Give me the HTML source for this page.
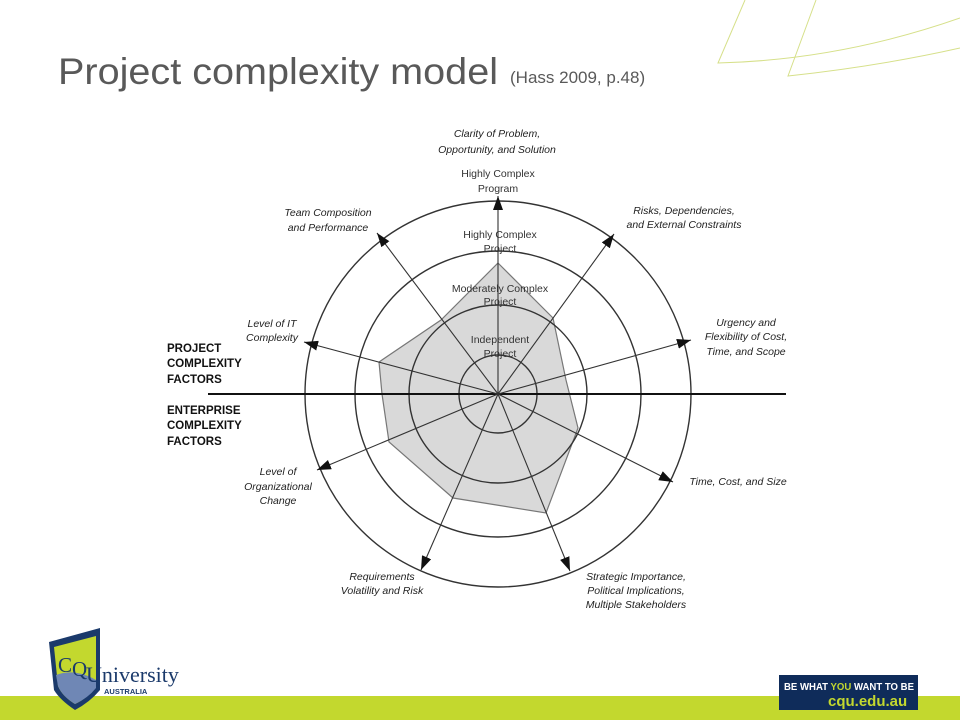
<!DOCTYPE html>
<html><head><meta charset="utf-8"><style>
html,body{margin:0;padding:0;background:#fff;}
body{width:960px;height:720px;position:relative;overflow:hidden;font-family:"Liberation Sans",sans-serif;}
</style></head><body>
<svg width="960" height="720" viewBox="0 0 960 720" xmlns="http://www.w3.org/2000/svg" style="position:absolute;left:0;top:0">
<defs>
<marker id="ah" markerWidth="14" markerHeight="10" refX="14" refY="5" orient="auto" markerUnits="userSpaceOnUse">
<path d="M0,0 L14,5 L0,10 Z" fill="#111"/>
</marker>
</defs>
<g fill="none" stroke="#d6e08a" stroke-width="1">
<path d="M745,0 L718,63 Q840,60 960,18"/>
<path d="M816,0 L788,76 Q880,66 960,48"/>
</g>
<text x="58" y="84" font-size="37" fill="#595959" font-family="Liberation Sans, sans-serif" textLength="440" lengthAdjust="spacingAndGlyphs">Project complexity model</text>
<text x="510" y="83" font-size="17" fill="#595959" font-family="Liberation Sans, sans-serif">(Hass 2009, p.48)</text>

<polygon points="498,263 553,318 566,380 578,428 546,513 453,498 389,442 382,394 379,362 441,320" fill="#d9d9d9" stroke="#777" stroke-width="1.2"/>
<g fill="none" stroke="#333" stroke-width="1.4">
<circle cx="498" cy="394" r="39"/>
<circle cx="498" cy="394" r="89"/>
<circle cx="498" cy="394" r="143"/>
<circle cx="498" cy="394" r="193"/>
</g>
<line x1="208" y1="394" x2="786" y2="394" stroke="#111" stroke-width="2"/>
<g stroke="#333" stroke-width="1.1" marker-end="url(#ah)">
<line x1="498" y1="394" x2="498" y2="196"/>
<line x1="498" y1="394" x2="614" y2="234"/>
<line x1="498" y1="394" x2="691" y2="340"/>
<line x1="498" y1="394" x2="673" y2="482"/>
<line x1="498" y1="394" x2="570" y2="571"/>
<line x1="498" y1="394" x2="421" y2="570"/>
<line x1="498" y1="394" x2="317" y2="470"/>
<line x1="498" y1="394" x2="304" y2="342"/>
<line x1="498" y1="394" x2="377" y2="233"/>
</g>
<g font-family="Liberation Sans, sans-serif" font-size="10.5" fill="#222" font-style="italic" text-anchor="middle">
<text x="497" y="137">Clarity of Problem,</text>
<text x="497" y="153">Opportunity, and Solution</text>
<text x="328" y="216">Team Composition</text>
<text x="328" y="231">and Performance</text>
<text x="684" y="214">Risks, Dependencies,</text>
<text x="684" y="228">and External Constraints</text>
<text x="746" y="326">Urgency and</text>
<text x="746" y="340">Flexibility of Cost,</text>
<text x="746" y="355">Time, and Scope</text>
<text x="272" y="327">Level of IT</text>
<text x="272" y="341">Complexity</text>
<text x="278" y="475">Level of</text>
<text x="278" y="490">Organizational</text>
<text x="278" y="504">Change</text>
<text x="738" y="485">Time, Cost, and Size</text>
<text x="382" y="580">Requirements</text>
<text x="382" y="594">Volatility and Risk</text>
<text x="636" y="580">Strategic Importance,</text>
<text x="636" y="594">Political Implications,</text>
<text x="636" y="608">Multiple Stakeholders</text>
</g>
<g font-family="Liberation Sans, sans-serif" font-size="10.5" fill="#333" text-anchor="middle">
<text x="498" y="177">Highly Complex</text>
<text x="498" y="192">Program</text>
<text x="500" y="238">Highly Complex</text>
<text x="500" y="252">Project</text>
<text x="500" y="292">Moderately Complex</text>
<text x="500" y="305">Project</text>
<text x="500" y="343">Independent</text>
<text x="500" y="357">Project</text>
</g>
<g font-family="Liberation Sans, sans-serif" font-size="11.5" font-weight="bold" fill="#111">
<text x="167" y="352">PROJECT</text>
<text x="167" y="367">COMPLEXITY</text>
<text x="167" y="383">FACTORS</text>
<text x="167" y="414">ENTERPRISE</text>
<text x="167" y="429">COMPLEXITY</text>
<text x="167" y="445">FACTORS</text>
</g>

<rect x="0" y="696" width="960" height="24" fill="#c3d82e"/>
<path d="M49,642 L100,628 L100,690 Q90,702 75,710 Q60,700 54,690 Z" fill="#1b3a6b"/>
<path d="M54,647 L96,636 L96,686 Q88,698 75,704 Q62,696 58,686 Z" fill="#c3d82e"/>
<path d="M56,675 Q75,668 96,680 L96,688 Q88,698 75,704 Q62,696 58,686 Z" fill="#6f87b5"/>
<text x="58" y="672" font-family="Liberation Serif, serif" font-size="21" fill="#1b3a6b">C</text>
<text x="72" y="676" font-family="Liberation Serif, serif" font-size="21" fill="#1b3a6b">Q</text>
<text x="86" y="682" font-family="Liberation Serif, serif" font-size="22" fill="#1b3a6b">University</text>
<text x="104" y="694" font-family="Liberation Sans, sans-serif" font-size="7.5" font-weight="bold" fill="#1b3a6b">AUSTRALIA</text>
<rect x="779" y="675" width="139" height="35" fill="#0f2c5a"/>
<text x="784" y="690" font-family="Liberation Sans, sans-serif" font-size="10.5" font-weight="bold" fill="#fff" textLength="130" lengthAdjust="spacingAndGlyphs">BE WHAT <tspan fill="#c3d82e">YOU</tspan> WANT TO BE</text>
<text x="828" y="706" font-family="Liberation Sans, sans-serif" font-size="15" font-weight="bold" fill="#c3d82e">cqu.edu.au</text>
</svg>
</body></html>
